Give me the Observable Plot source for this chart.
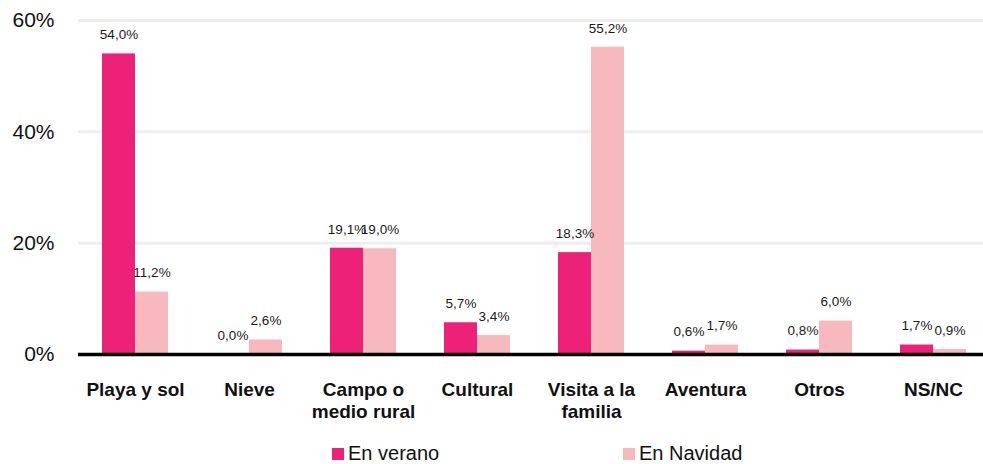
<!DOCTYPE html>
<html>
<head>
<meta charset="utf-8">
<script src="https://cdn.jsdelivr.net/npm/d3@7"></script>
<script src="https://cdn.jsdelivr.net/npm/@observablehq/plot@0.6"></script>
<style>
  html, body { margin: 0; padding: 0; background: #fff; }
  body { width: 983px; height: 464px; overflow: hidden; position: relative; font-family: "Liberation Sans", Arial, sans-serif; }
  #legend { position: absolute; top: 443px; left: 0; width: 983px; height: 21px; font-size: 20px; color: #111; }
  .item { position: absolute; top: 0; display: flex; align-items: center; height: 21px; line-height: 21px; }
  .sw { width: 12px; height: 12px; margin-right: 4px; }
</style>
</head>
<body>
<div id="chart"></div>
<div id="legend"></div>
<script>
const categories = ["Playa y sol", "Nieve", "Campo o\nmedio rural", "Cultural", "Visita a la\nfamilia", "Aventura", "Otros", "NS/NC"];
const series = ["En verano", "En Navidad"];
const verano = [54.0, 0.0, 19.1, 5.7, 18.3, 0.6, 0.8, 1.7];
const navidad = [11.2, 2.6, 19.0, 3.4, 55.2, 1.7, 6.0, 0.9];
const yTicks = [0, 20, 40, 60];
const colors = ["#EE2178", "#F7B8BE"];

const data = categories.flatMap((c, i) => [
  {cat: c, serie: series[0], value: verano[i]},
  {cat: c, serie: series[1], value: navidad[i]}
]);
const fmt = v => d3.format(".1f")(v).replace(".", ",") + "%";

const chart = Plot.plot({
  width: 983,
  height: 443,
  marginLeft: 76,
  marginRight: -9,
  marginTop: 20,
  marginBottom: 89,
  style: {fontFamily: "'Liberation Sans', Arial, sans-serif", background: "white", color: "#111"},
  fx: {domain: categories, paddingInner: 0, paddingOuter: 0, label: null},
  x: {domain: series, axis: null, paddingInner: 0, paddingOuter: 0.72},
  y: {domain: [0, 60], label: null},
  color: {domain: series, range: colors},
  marks: [
    Plot.ruleY(yTicks.filter(d => d > 0), {stroke: "#eeeeee", strokeWidth: 3}),
    Plot.barY(data, {fx: "cat", x: "serie", y: "value", fill: "serie"}),
    Plot.ruleY([0], {stroke: "#000", strokeWidth: 3.5}),
    Plot.text(data, {fx: "cat", x: "serie", y: "value", text: d => fmt(d.value), dy: -19, fontSize: 13.5, fill: "#1a1a1a"}),
    Plot.axisY(yTicks, {anchor: "left", tickSize: 0, tickPadding: 24, fontSize: 21, tickFormat: d => d + "%", label: null}),
    Plot.axisFx({anchor: "bottom", tickSize: 0, tickPadding: 26, fontSize: 19, fontWeight: "bold", lineHeight: 1.15, lineAnchor: "top", label: null})
  ]
});
document.getElementById("chart").appendChild(chart);

const legend = document.getElementById("legend");
const lefts = [332, 623];
series.forEach((s, i) => {
  const it = document.createElement("div");
  it.className = "item";
  it.style.left = lefts[i] + "px";
  it.innerHTML = `<span class="sw" style="background:${colors[i]}"></span><span>${s}</span>`;
  legend.appendChild(it);
});
</script>
</body>
</html>
